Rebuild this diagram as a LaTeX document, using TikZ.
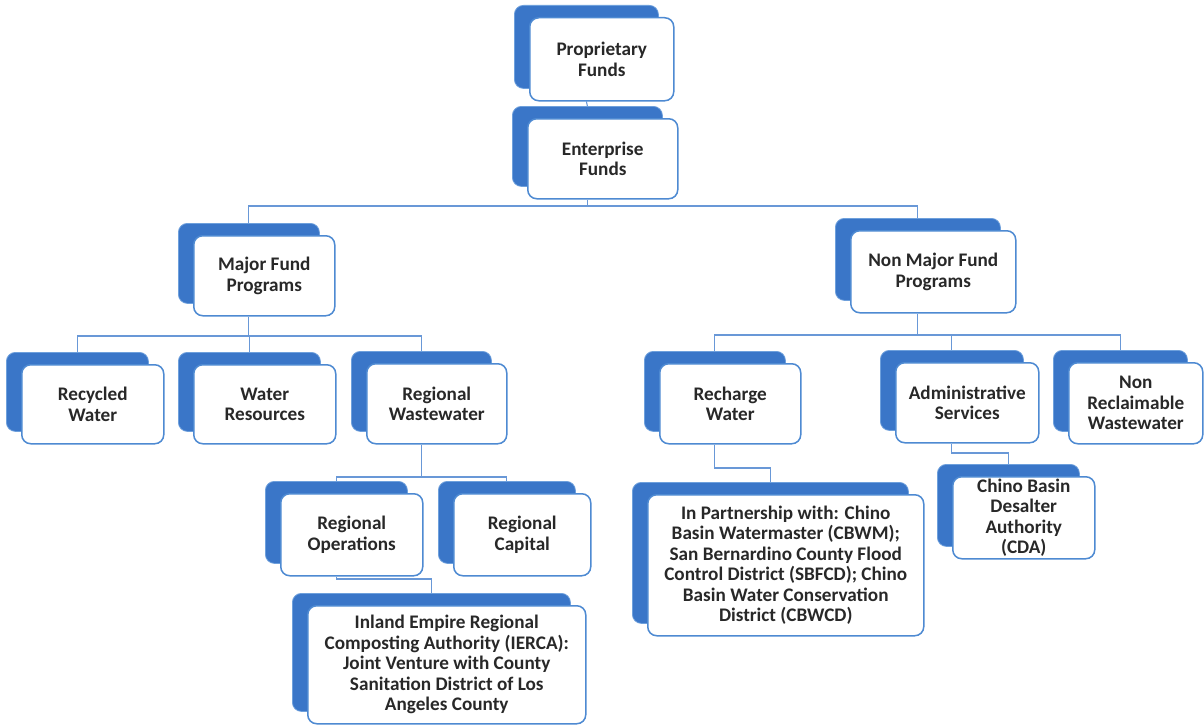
\documentclass[tikz,border=0pt]{standalone}
\usepackage{fontspec}
\setmainfont{Carlito}
\usetikzlibrary{backgrounds}
\definecolor{shadeblue}{RGB}{58,118,200}
\definecolor{shadeedge}{RGB}{110,160,220}
\definecolor{edgeblue}{RGB}{78,138,210}
\definecolor{connblue}{RGB}{105,152,215}
\definecolor{txt}{RGB}{40,40,40}
\tikzset{
  shadebox/.style={draw=shadeedge, line width=0.8pt, fill=shadeblue, rounded corners=9pt, inner sep=0pt},
  frontbox/.style={draw=edgeblue, line width=1.5pt, fill=white, rounded corners=9pt, inner sep=2pt,
    align=center, text=txt, font=\fontsize{19.2}{20.5}\selectfont\bfseries},
  conn/.style={draw=connblue, line width=1.1pt},
}
\newcommand\orgbox[6]{%
  \pgfmathsetmacro\obw{#4-#2}\pgfmathsetmacro\obh{#5-#3}%
  \node[shadebox, minimum width=\obw pt, minimum height=\obh pt, anchor=north west] (#1-s) at (#2-15,#3-12) {};
  \node[frontbox, minimum width=\obw pt, minimum height=\obh pt, anchor=north west] (#1) at (#2,#3) {#6};
}
\begin{document}
\begin{tikzpicture}[x=1pt,y=-1pt]
\useasboundingbox (0,0) rectangle (1204,725);
\orgbox{prop}{529}{17}{673}{100}{Proprietary\\Funds}
\orgbox{ent}{527}{118}{677}{198}{Enterprise\\Funds}
\orgbox{major}{193}{235}{334}{315}{Major Fund\\Programs}
\orgbox{nonmajor}{850}{230}{1015}{312}{Non Major Fund\\Programs}
\orgbox{recyc}{21}{364}{163}{443}{Recycled\\Water}
\orgbox{watres}{193}{364}{335}{443}{Water\\Resources}
\orgbox{regww}{366}{363}{506}{443}{Regional\\Wastewater}
\orgbox{recharge}{659}{363}{800}{443}{Recharge\\Water}
\orgbox{admin}{895}{362}{1038}{442}{Administrative\\Services}
\orgbox{nrw}{1068}{362}{1202}{443}{Non\\Reclaimable\\Wastewater}
\orgbox{regops}{280}{493}{422}{575}{Regional\\Operations}
\orgbox{regcap}{453}{493}{590}{575}{Regional\\Capital}
\orgbox{ierca}{307}{605}{585}{723}{Inland Empire Regional\\Composting Authority (IERCA):\\Joint Venture with County\\Sanitation District of Los\\Angeles County}
\orgbox{partner}{647}{494}{923}{635}{In Partnership with: Chino\\Basin Watermaster (CBWM);\\San Bernardino County Flood\\Control District (SBFCD); Chino\\Basin Water Conservation\\District (CBWCD)}
\orgbox{cda}{952}{476}{1094}{558}{Chino Basin\\Desalter\\Authority\\(CDA)}
\begin{pgfonlayer}{background}
\fill[white] (0,0) rectangle (1204,725);
\draw[conn] (prop-s.center |- prop.south) -- (ent-s.north);
\draw[conn] (ent-s.center |- ent.south) -- (ent-s.center |- 0,206) -| (major-s.north);
\draw[conn] (ent-s.center |- 0,206) -| (nonmajor-s.north);
\draw[conn] (major-s.center |- major.south) -- (major-s.center |- 0,336) -| (recyc-s.north);
\draw[conn] (major-s.center |- 0,336) -| (watres-s.north);
\draw[conn] (major-s.center |- 0,336) -| (regww-s.north);
\draw[conn] (nonmajor-s.center |- nonmajor.south) -- (nonmajor-s.center |- 0,335) -| (recharge-s.north);
\draw[conn] (nonmajor-s.center |- 0,335) -| (admin-s.north);
\draw[conn] (nonmajor-s.center |- 0,335) -| (nrw-s.north);
\draw[conn] (regww-s.center |- regww.south) -- (regww-s.center |- 0,477) -| (regops-s.north);
\draw[conn] (regww-s.center |- 0,477) -| (regcap-s.north);
\draw[conn] (regops-s.center |- regops.south) -- (regops-s.center |- 0,579) -| (ierca-s.north);
\draw[conn] (recharge-s.center |- recharge.south) -- (recharge-s.center |- 0,468) -| (partner-s.north);
\draw[conn] (admin-s.center |- admin.south) -- (admin-s.center |- 0,453) -| (cda-s.north);
\end{pgfonlayer}
\end{tikzpicture}
\end{document}
